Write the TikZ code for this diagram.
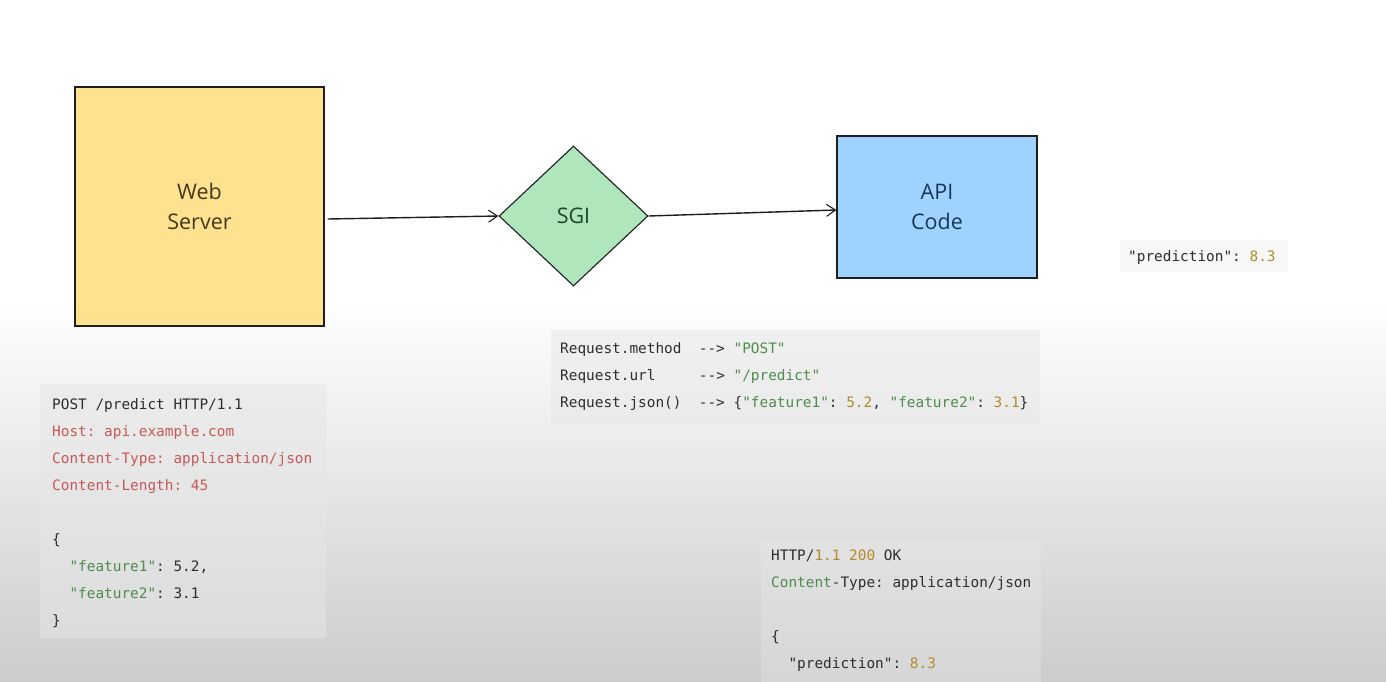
\documentclass[tikz,border=0pt]{standalone}
\usepackage{fontspec}
\setmainfont{Open Sans}
\setmonofont{DejaVu Sans Mono}
\usetikzlibrary{shapes.geometric,arrows.meta}
\definecolor{bgbot}{RGB}{204,204,204}
\definecolor{yellowfill}{RGB}{255,226,143}
\definecolor{greenfill}{RGB}{176,230,188}
\definecolor{bluefill}{RGB}{160,210,255}
\definecolor{edgec}{RGB}{30,30,30}
\definecolor{ctext}{RGB}{45,45,45}
\definecolor{cred}{RGB}{196,90,88}
\definecolor{cgreen}{RGB}{78,140,78}
\definecolor{colive}{RGB}{176,140,40}
\definecolor{ywtext}{RGB}{70,55,30}
\definecolor{gntext}{RGB}{30,70,40}
\definecolor{bltext}{RGB}{25,55,85}
\definecolor{bOneTop}{RGB}{236,236,236}
\definecolor{bOneBot}{RGB}{220,220,220}
\definecolor{bTwoTop}{RGB}{240,240,240}
\definecolor{bTwoBot}{RGB}{234,234,234}
\definecolor{bThreeTop}{RGB}{226,226,226}
\definecolor{bThreeBot}{RGB}{214,214,214}
\definecolor{bFour}{RGB}{247,247,247}
\newcommand\monospacing{\frenchspacing\spaceskip=8.67pt\relax\xspaceskip=8.67pt\relax}
\tikzset{
  shapebox/.style={draw=edgec, line width=1.1pt, inner sep=0pt},
  label text/.style={font=\fontsize{21.5}{30}\selectfont, align=center},
  codetext/.style={font=\ttfamily\fontsize{14.4}{27}\selectfont, text=ctext,
    text width=480pt, align=left, inner sep=0pt, anchor=base west},
  flow/.style={draw=edgec, line width=1.4pt, -{Straight Barb[length=9pt,width=12pt,line width=1.1pt]}}
}
\begin{document}
\begin{tikzpicture}[x=1pt,y=-1pt]
\useasboundingbox (0,0) rectangle (1386,681);
% background
\fill[white] (0,0) rectangle (1386,300);
\shade[top color=white, bottom color=bgbot] (0,300) rectangle (1386,681);

% code boxes
\shade[top color=bOneTop, bottom color=bOneBot] (40,384) rectangle (326,637);
\shade[top color=bTwoTop, bottom color=bTwoBot] (551,330) rectangle (1040,424);
\shade[top color=bThreeTop, bottom color=bThreeBot] (761,540) rectangle (1041,681);
\fill[bFour] (1120,240) rectangle (1288,272);

% code texts
\node[codetext] (t1) at (52,409) {\monospacing POST /predict HTTP/1.1\\
\textcolor{cred}{Host: api.example.com}\\
\textcolor{cred}{Content-Type: application/json}\\
\textcolor{cred}{Content-Length: 45}\\[27pt]
\{\\
\ \ \textcolor{cgreen}{"feature1"}: 5.2,\\
\ \ \textcolor{cgreen}{"feature2"}: 3.1\\
\}};

\node[codetext] (t2) at (560,353) {\monospacing Request.method\ \ --> \textcolor{cgreen}{"POST"}\\
Request.url\ \ \ \ \ --> \textcolor{cgreen}{"/predict"}\\
Request.json()\ \ --> \{\textcolor{cgreen}{"feature1"}: \textcolor{colive}{5.2}, \textcolor{cgreen}{"feature2"}: \textcolor{colive}{3.1}\}};

\node[codetext] (t3) at (771,560) {\monospacing HTTP/\textcolor{colive}{1.1 200} OK\\
\textcolor{cgreen}{Content}-Type: application/json\\[27pt]
\{\\
\ \ "prediction": \textcolor{colive}{8.3}};

\node[codetext] (t4) at (1128,261) {\monospacing "prediction": \textcolor{colive}{8.3}};

% shapes
\node[shapebox, rectangle, fill=yellowfill, minimum width=249pt, minimum height=239pt,
  text=ywtext, label text] (web) at (199.5,206.5) {Web\\Server};
\node[shapebox, diamond, fill=greenfill, minimum width=149pt, minimum height=140pt,
  aspect=1.064, text=gntext, label text] (sgi) at (573.5,216) {SGI};
\node[shapebox, rectangle, fill=bluefill, minimum width=200pt, minimum height=142pt,
  text=bltext, label text] (api) at (937,207) {API\\Code};

% connectors
\draw[flow] ([xshift=3pt,yshift=-12.5pt]web.east) -- (sgi.west);
\draw[flow] (sgi.east) -- ([yshift=-3pt]api.west);
\end{tikzpicture}
\end{document}
